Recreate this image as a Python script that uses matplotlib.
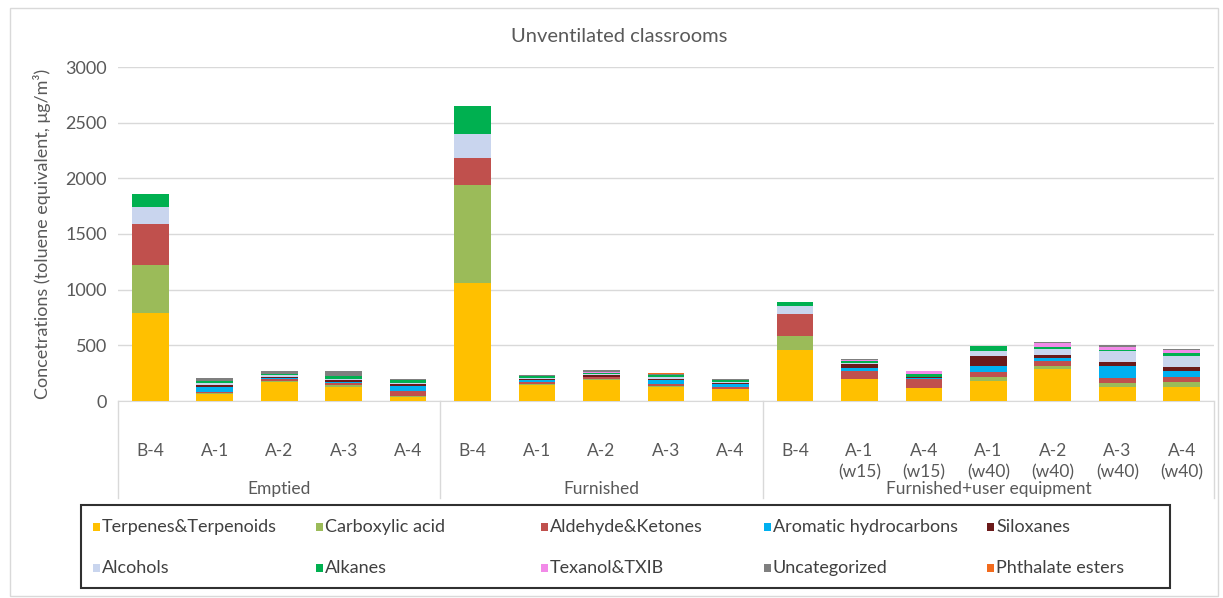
import matplotlib
matplotlib.use("Agg")
import matplotlib.pyplot as plt
from matplotlib.patches import Rectangle
from matplotlib.lines import Line2D
import matplotlib.transforms as mtransforms
import numpy as np

plt.rcParams['font.family'] = ['Lato', 'DejaVu Sans']

# ---------------- data ----------------
categories = ["B-4", "A-1", "A-2", "A-3", "A-4",
              "B-4", "A-1", "A-2", "A-3", "A-4",
              "B-4", "A-1\n(w15)", "A-4\n(w15)", "A-1\n(w40)", "A-2\n(w40)", "A-3\n(w40)", "A-4\n(w40)"]
groups = ["Emptied", "Furnished", "Furnished+user equipment"]
group_sizes = [5, 5, 7]

series_names = ["Terpenes&Terpenoids", "Carboxylic acid", "Aldehyde&Ketones", "Aromatic hydrocarbons",
                "Siloxanes", "Alcohols", "Alkanes", "Texanol&TXIB", "Uncategorized", "Phthalate esters"]
terpenes = [793, 60, 170, 130, 40, 1060, 145, 190, 130, 105, 459, 195, 115, 183, 285, 129, 129]
carboxylic = [428, 10, 10, 10, 5, 879, 10, 5, 5, 5, 129, 5, 5, 30, 30, 30, 45]
aldehyde = [368, 15, 20, 20, 45, 240, 15, 20, 20, 20, 195, 65, 80, 51, 45, 45, 39]
aromatic = [0, 40, 10, 10, 45, 0, 15, 5, 30, 20, 0, 35, 3, 51, 25, 111, 57]
siloxanes = [0, 20, 10, 15, 15, 0, 15, 10, 15, 15, 0, 35, 10, 90, 24, 39, 39]
alcohols = [150, 20, 10, 15, 15, 222, 5, 10, 20, 10, 66, 10, 5, 45, 60, 96, 99]
alkanes = [119, 15, 15, 25, 25, 248, 20, 15, 10, 10, 42, 18, 28, 45, 12, 12, 24]
texanol = [0, 2, 2, 2, 2, 0, 2, 2, 5, 2, 0, 2, 22, 0, 42, 21, 24]
uncategorized = [0, 25, 20, 40, 8, 0, 8, 20, 10, 10, 0, 10, 5, 0, 5, 20, 15]
phthalate = [0, 3, 3, 3, 2, 0, 0, 3, 10, 2, 0, 0, 0, 0, 0, 0, 0]
series_values = [terpenes, carboxylic, aldehyde, aromatic, siloxanes,
                 alcohols, alkanes, texanol, uncategorized, phthalate]
colors = ["#FFC000", "#9BBB59", "#C0504D", "#00B0F0", "#6B1A1A",
          "#C9D5EE", "#00B050", "#F28AE8", "#7F7F7F", "#F26B1D"]

title = "Unventilated classrooms"
ylabel = "Concetrations (toluene equivalent, μg/m³)"
yticks = [0, 500, 1000, 1500, 2000, 2500, 3000]

# ---------------- figure ----------------
W, H = 1223, 598
fig = plt.figure(figsize=(W / 100, H / 100), dpi=100)

def fx(px):
    return px / W

def fy(py):
    return 1 - py / H

ax_l, ax_r, ax_t, ax_b = 118, 1214, 67, 401
ax = fig.add_axes([fx(ax_l), fy(ax_b), (ax_r - ax_l) / W, (ax_b - ax_t) / H])

x = np.arange(len(categories))
bottom = np.zeros(len(categories))
for name, vals, c in zip(series_names, series_values, colors):
    v = np.array(vals, dtype=float)
    ax.bar(x, v, width=0.57, bottom=bottom, color=c, label=name, zorder=3)
    bottom += v

ax.set_xlim(-0.5, len(categories) - 0.5)
ax.set_ylim(0, 3000)
ax.set_yticks(yticks)
ax.set_yticklabels([str(t) for t in yticks], fontsize=13, color="#595959")
ax.grid(axis='y', color="#D9D9D9", linewidth=1, zorder=0)
ax.set_axisbelow(True)
for s in ["top", "right", "left"]:
    ax.spines[s].set_visible(False)
ax.spines["bottom"].set_color("#D9D9D9")
ax.tick_params(axis='y', length=0, pad=8)
ax.tick_params(axis='x', length=0, pad=30)
ax.set_xticks(x)
ax.set_xticklabels(categories, fontsize=12.5, color="#595959", linespacing=1.4)

ax.set_ylabel(ylabel, fontsize=13, color="#595959")
ax.yaxis.set_label_coords(-0.061, 0.5)

# group separators and labels
trans = mtransforms.blended_transform_factory(ax.transData, ax.transAxes)
sep_bottom = (ax_b - 498) / (ax_b - ax_t)
bounds = np.concatenate([[0], np.cumsum(group_sizes)]) - 0.5
for b in bounds:
    ax.add_line(Line2D([b, b], [0, sep_bottom], transform=trans, color="#D9D9D9",
                       linewidth=1, clip_on=False))
lab_y = (ax_b - 489) / (ax_b - ax_t)
for g, lo, hi in zip(groups, bounds[:-1], bounds[1:]):
    ax.text((lo + hi) / 2, lab_y, g, transform=trans, ha='center', va='center',
            fontsize=12.5, color="#595959")

fig.text(fx(619), fy(37), title, ha='center', va='center', fontsize=14.5, color="#595959")

# legend (manual grid, row-major as in reference)
fig.patches.append(Rectangle((fx(81), fy(588)), fx(1170) - fx(81), fy(505) - fy(588),
                             transform=fig.transFigure, fill=False, edgecolor="#303030",
                             linewidth=1.5))
col_x = [96, 319, 544, 767, 990]
row_y = [527, 568]
for i, (name, c) in enumerate(zip(series_names, colors)):
    r, cidx = divmod(i, 5)
    mx, my = col_x[cidx], row_y[r]
    fig.patches.append(Rectangle((fx(mx - 3), fy(my + 4)), 7 / W, 8 / H,
                                 transform=fig.transFigure, facecolor=c, edgecolor='none'))
    fig.text(fx(mx + 6), fy(my), name, ha='left', va='center', fontsize=13, color="#404040")

# outer chart border
fig.patches.append(Rectangle((fx(10), fy(596)), fx(1218) - fx(10), fy(8) - fy(596),
                             transform=fig.transFigure, fill=False, edgecolor="#D9D9D9",
                             linewidth=1))

fig.savefig("out.png", dpi=100)
